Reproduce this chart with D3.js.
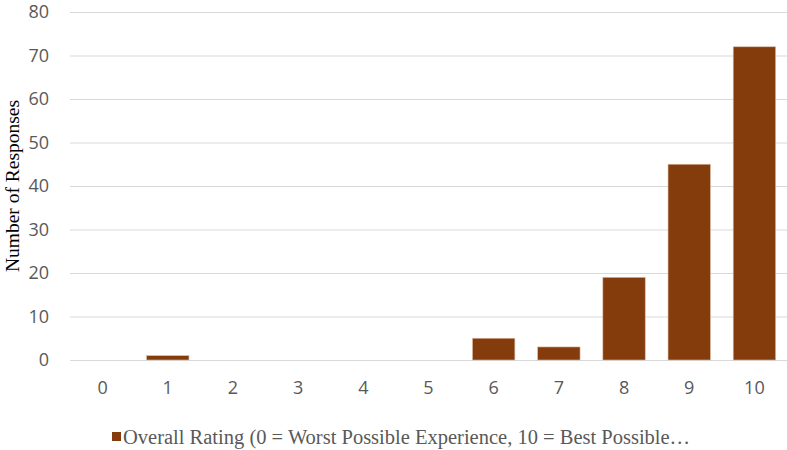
<!DOCTYPE html>
<html>
<head>
<meta charset="utf-8">
<script src="https://cdn.jsdelivr.net/npm/d3@7"></script>
<style>
  body { margin: 0; background: #fff; }
</style>
</head>
<body>
<div id="chart"></div>
<script>
const categories = ["0", "1", "2", "3", "4", "5", "6", "7", "8", "9", "10"];
const responses = [0, 1, 0, 0, 0, 0, 5, 3, 19, 45, 72];
const yTicks = [0, 10, 20, 30, 40, 50, 60, 70, 80];
const seriesName = "Overall Rating (0 = Worst Possible Experience, 10 = Best Possible\u2026";

const width = 787;
const height = 450;
const margin = { top: 12, left: 70, bottom: 90, right: 0 };
const iwidth = width - margin.left - margin.right;
const iheight = height - margin.top - margin.bottom;

const svg = d3.select("#chart").append("svg")
    .attr("width", width)
    .attr("height", height);

const g = svg.append("g").attr("transform", `translate(${margin.left},${margin.top})`);

const y = d3.scaleLinear()
    .domain([0, 80])
    .range([iheight, 0]);

const x = d3.scaleBand()
    .domain(categories)
    .range([0, iwidth])
    .paddingInner(0.35)
    .paddingOuter(0.175);

// gridlines
g.selectAll("line.grid").data(yTicks).enter().append("line")
    .attr("class", "grid")
    .attr("x1", 0)
    .attr("x2", iwidth)
    .attr("y1", d => y(d) + 0.5)
    .attr("y2", d => y(d) + 0.5)
    .attr("stroke", "#d9d9d9")
    .attr("stroke-width", 1);

// y tick labels
g.selectAll("text.ytick").data(yTicks).enter().append("text")
    .attr("class", "ytick")
    .attr("x", -21)
    .attr("y", d => y(d))
    .attr("dy", "0.35em")
    .attr("text-anchor", "end")
    .style("font-family", "'Open Sans', sans-serif")
    .style("font-size", "18px")
    .style("fill", "#595959")
    .text(d => d);

// bars
g.selectAll("rect.bar").data(responses).enter().append("rect")
    .attr("class", "bar")
    .attr("x", (d, i) => x(categories[i]))
    .attr("y", d => y(d))
    .attr("width", x.bandwidth())
    .attr("height", d => iheight - y(d))
    .attr("fill", "#843c0c")
    .attr("stroke", "#d9b8a3")
    .attr("stroke-width", 0.6);

// x tick labels
g.selectAll("text.xtick").data(categories).enter().append("text")
    .attr("class", "xtick")
    .attr("x", d => x(d) + x.bandwidth() / 2)
    .attr("y", iheight + 28)
    .attr("dy", "0.35em")
    .attr("text-anchor", "middle")
    .style("font-family", "'Open Sans', sans-serif")
    .style("font-size", "18px")
    .style("fill", "#595959")
    .text(d => d);

// y title
svg.append("text")
    .attr("transform", `translate(19,${margin.top + 174}) rotate(-90)`)
    .attr("text-anchor", "middle")
    .style("font-family", "'Liberation Serif', serif")
    .style("font-size", "19.5px")
    .style("fill", "#000")
    .text("Number of Responses");

// legend
const legend = svg.append("g").attr("transform", "translate(112,437)");
legend.append("rect")
    .attr("x", 0)
    .attr("y", -5)
    .attr("width", 9)
    .attr("height", 9)
    .attr("fill", "#843c0c");
legend.append("text")
    .attr("x", 11)
    .attr("y", 0)
    .attr("dy", "0.35em")
    .style("font-family", "'Liberation Serif', serif")
    .style("font-size", "20.5px")
    .style("fill", "#595959")
    .text(seriesName);
</script>
</body>
</html>
